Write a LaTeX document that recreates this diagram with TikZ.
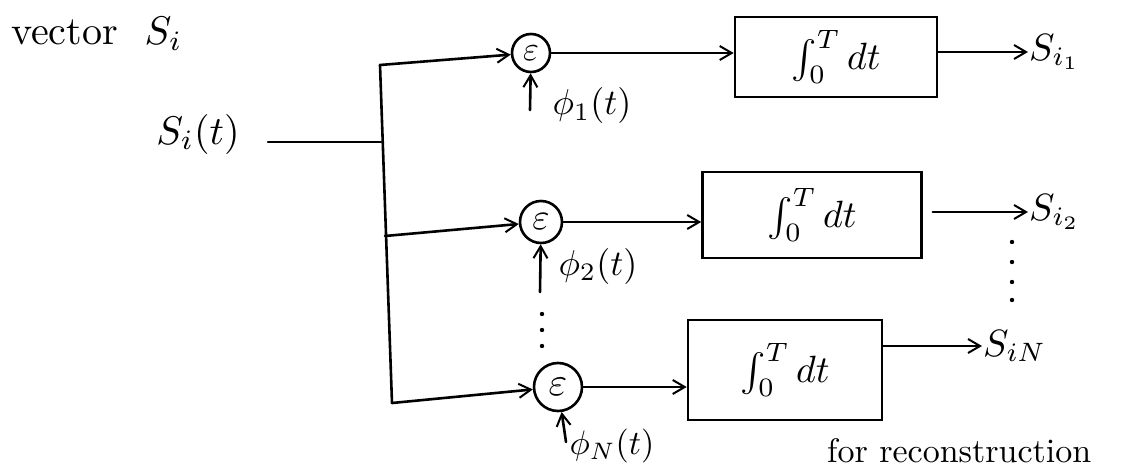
\documentclass[tikz,border=0pt]{standalone}
\usepackage{graphicx}
\usetikzlibrary{arrows.meta}
\newcommand{\bigt}[2]{\scalebox{#1}{#2}}
\begin{document}
\begin{tikzpicture}[x=1pt,y=-1pt,
  wire/.style={line width=2.6pt,line cap=round},
  arr/.style={wire,-{Straight Barb[length=12pt,width=14pt,line width=2pt]}},
  mult/.style={draw,circle,line width=2.6pt,inner sep=0pt},
  intbox/.style={draw,rectangle,line width=2.6pt,inner sep=0pt},
  lbl/.style={inner sep=1pt},
  small/.style={inner sep=1pt}]
\useasboundingbox (0,0) rectangle (1124,468);
\fill[white] (0,0) rectangle (1124,468);

% texts
\node[lbl,anchor=west] (vec) at (10,34) {\bigt{4}{vector\ \ $S_i$}};
\node[lbl] (sit) at (198,134) {\bigt{4}{$S_i(t)$}};

% bus
\coordinate (b1) at (380,65);
\coordinate (bin) at (381,142);
\coordinate (b2) at (385,236);
\coordinate (b3) at (392,403);
\coordinate (sin) at (268,142);
\draw[wire] (b1) -- (b3);
\draw[wire] (sin) -- (bin);

% multipliers
\node[mult,minimum size=38pt] (m1) at (531,53) {\bigt{3.4}{$\varepsilon$}};
\node[mult,minimum size=42pt] (m2) at (541,222) {\bigt{3.7}{$\varepsilon$}};
\node[mult,minimum size=48pt] (m3) at (558,387) {\bigt{4}{$\varepsilon$}};

\draw[arr] (b1) -- (m1);
\draw[arr] (b2) -- (m2);
\draw[arr] (b3) -- (m3);

% basis functions
\coordinate (p1) at (530,110);
\coordinate (p2) at (540,292);
\coordinate (p3) at (566,442);
\draw[arr] (p1) -- (m1);
\draw[arr] (p2) -- (m2);
\draw[arr] (p3) -- (m3);
\node[small] (f1) at (592,106) {\bigt{3.6}{$\phi_1(t)$}};
\node[small] (f2) at (598,266) {\bigt{3.6}{$\phi_2(t)$}};
\node[small] (f3) at (612,446) {\bigt{3.4}{$\phi_N(t)$}};
\foreach \yy in {314,330,346} \fill (542,\yy) circle (2.2pt);

% integrators
\node[intbox,minimum width=202pt,minimum height=80pt] (i1) at (836,57) {\bigt{3.8}{$\int_0^T dt$}};
\node[intbox,minimum width=219pt,minimum height=86pt] (i2) at (812,215) {\bigt{3.8}{$\int_0^T dt$}};
\node[intbox,minimum width=194pt,minimum height=100pt] (i3) at (785,370) {\bigt{3.8}{$\int_0^T dt$}};

\draw[arr] (m1) -- (i1.west |- m1.east);
\draw[arr] (m2) -- (i2.west |- m2.east);
\draw[arr] (m3) -- (i3.west |- m3.east);

% outputs
\node[lbl,anchor=west] (s1) at (1028,52) {\bigt{3.8}{$S_{i_1}$}};
\node[lbl,anchor=west] (s2) at (1028,212) {\bigt{3.8}{$S_{i_2}$}};
\node[lbl,anchor=west] (s3) at (982,346) {\bigt{3.8}{$S_{iN}$}};
\draw[arr] (i1.east |- s1.west) -- (s1.west);
\draw[arr] ([xshift=10pt]i2.east |- s2.west) -- (s2.west);
\draw[arr] (i3.east |- s3.west) -- (s3.west);
\foreach \yy in {242,262,282,300} \fill (1012,\yy) circle (2.2pt);

% bottom note
\node[lbl,anchor=base west] (note) at (826,462) {\bigt{3.4}{for reconstruction}};
\end{tikzpicture}
\end{document}
